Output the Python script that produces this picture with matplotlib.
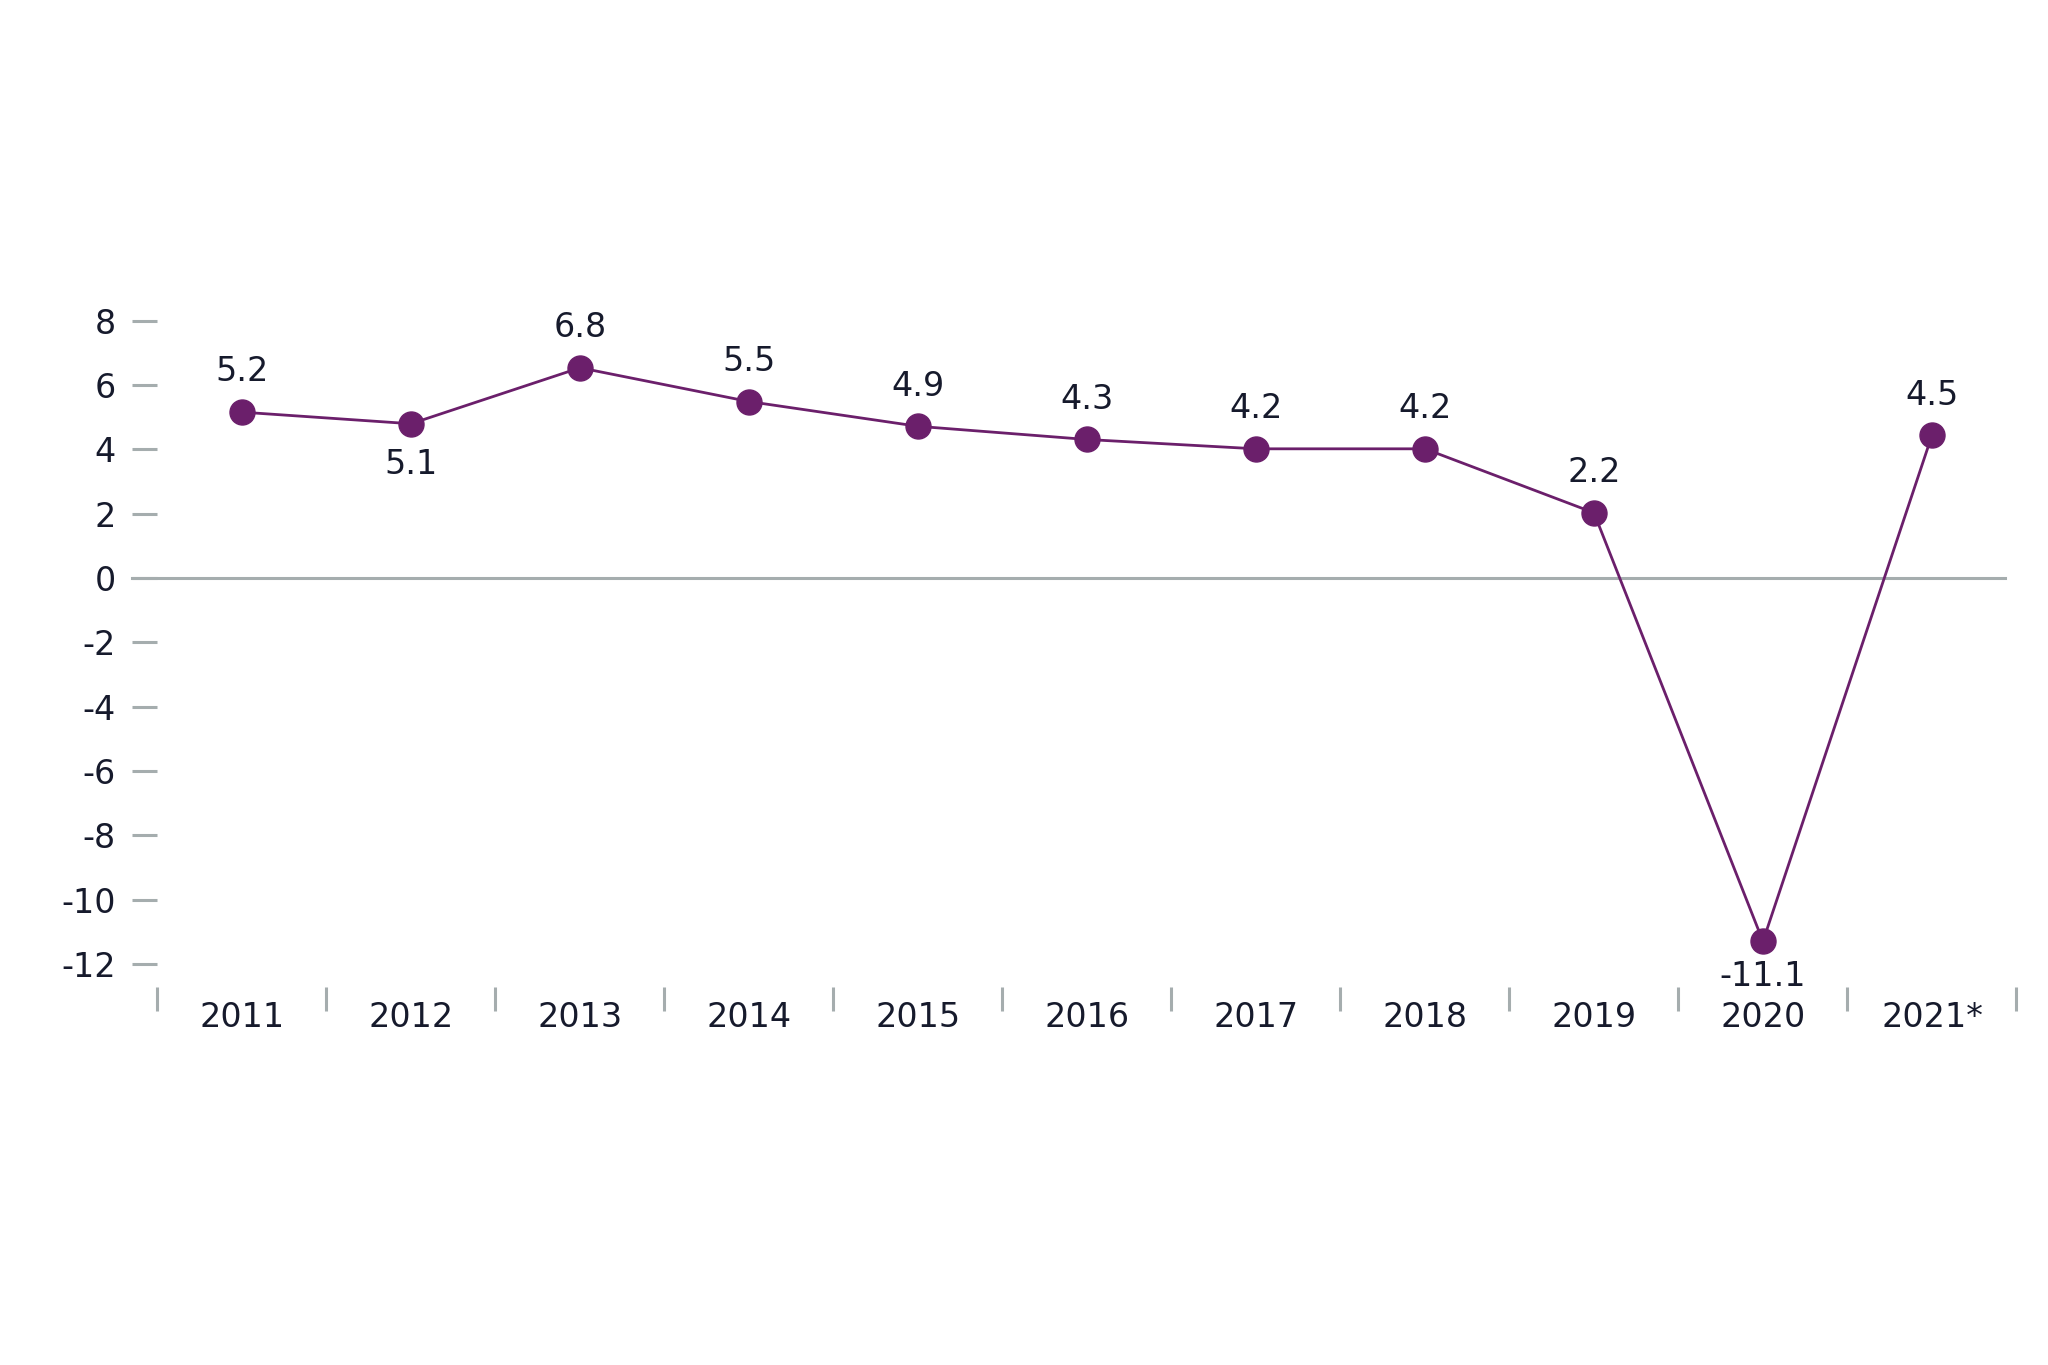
import matplotlib.pyplot as plt
import numpy as np

# years on the x axis and the plotted growth values
years = ['2011', '2012', '2013', '2014', '2015', '2016', '2017', '2018', '2019', '2020', '2021*']
values = [5.16, 4.80, 6.54, 5.49, 4.72, 4.31, 4.02, 4.02, 2.03, -11.3, 4.44]
# the printed labels next to each point
value_labels = ['5.2', '5.1', '6.8', '5.5', '4.9', '4.3', '4.2', '4.2', '2.2', '-11.1', '4.5']
label_below = ['2012', '2020']
y_ticks = [8, 6, 4, 2, 0, -2, -4, -6, -8, -10, -12]

purple = '#6b1f6b'
grey = '#a5adae'
text_col = '#161a2c'

plt.rcParams['font.family'] = ['Verdana', 'DejaVu Sans']

fig = plt.figure(figsize=(20.48, 13.65), dpi=100)
ax = fig.add_axes([0.0769, 0.2769, 0.9077, 0.5116])

x = np.arange(len(years))
ax.plot(x, values, color=purple, lw=2.0, marker='o', markersize=18, zorder=3)

# zero line, a bit wider than the plot area on the left
ax.axhline(0, xmin=-0.0137, xmax=0.9938, color=grey, lw=2.2, clip_on=False, zorder=1)

for i, (v, lab) in enumerate(zip(values, value_labels)):
    if years[i] in label_below:
        off = -25 if years[i] == '2020' else -29
    else:
        off = 29
    ax.annotate(lab, (x[i], v), xytext=(0, off), textcoords='offset points',
                ha='center', va='center', fontsize=24, color=text_col)

ax.set_xlim(-0.5, len(years) - 0.5)
ax.set_ylim(-12.72, 9)

ax.set_yticks(y_ticks)
ax.set_yticklabels([str(t) for t in y_ticks])
ax.tick_params(axis='y', length=18, width=2.2, color=grey, pad=12,
               labelsize=24, labelcolor=text_col)

ax.set_xticks(x)
ax.set_xticklabels(years)
ax.set_xticks(np.arange(len(years) + 1) - 0.5, minor=True)
ax.tick_params(axis='x', which='major', length=0, pad=10, labelsize=24, labelcolor=text_col)
ax.tick_params(axis='x', which='minor', length=17, width=2.2, color=grey)

for s in ax.spines.values():
    s.set_visible(False)

fig.savefig('out.png', dpi=100, facecolor='white')
